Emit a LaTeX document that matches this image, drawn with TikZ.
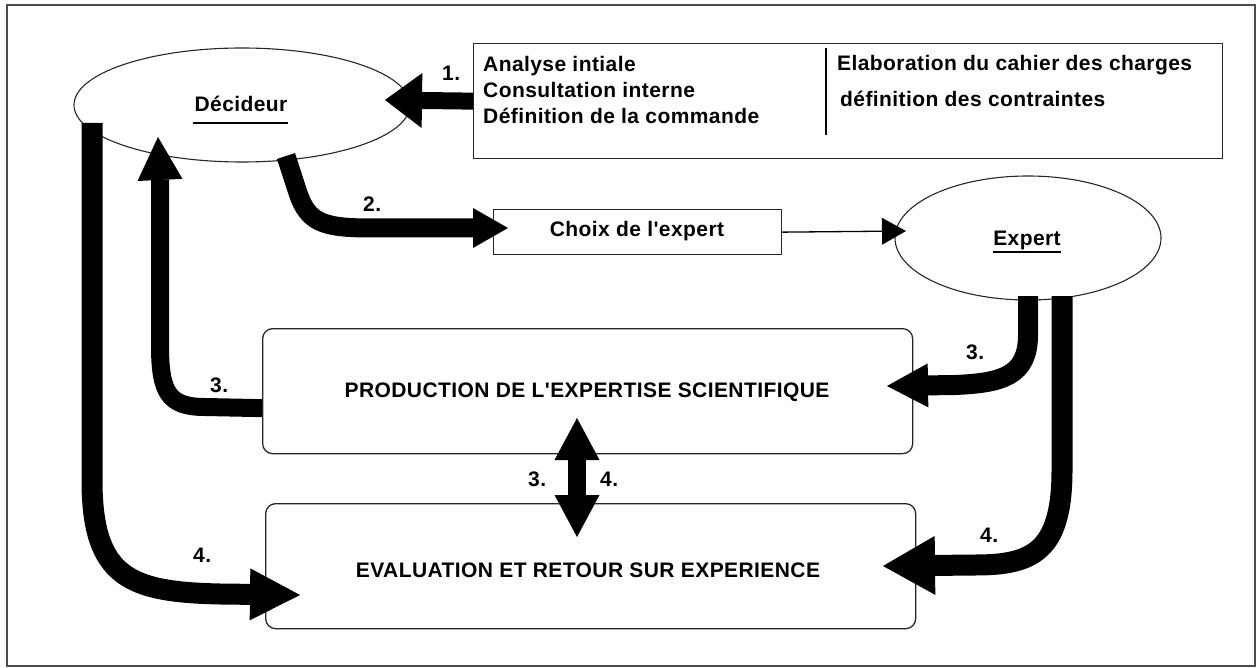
\documentclass[tikz,border=0pt]{standalone}
\usepackage{fontspec}
\setmainfont{Liberation Sans}
\newfontfamily\labfont{Liberation Sans}[LetterSpace=2.0]
\usetikzlibrary{arrows.meta,shapes.geometric,calc}
\tikzset{
  txt/.style={font=\labfont\bfseries\fontsize{21}{25}\selectfont, inner sep=0pt},
  boxline/.style={draw=black!85, line width=1.3pt},
  rbox/.style={boxline, rounded corners=10pt, minimum width=650pt, minimum height=125pt, inner sep=0pt},
  oval/.style={ellipse, draw=black!85, line width=1.1pt, inner sep=0pt},
  uline/.style={line width=1.6pt},
}
\begin{document}
\begin{tikzpicture}[x=1pt,y=-1pt]
\useasboundingbox (0,0) rectangle (1260,668);
% outer frame
\draw[draw=black!70, line width=1.5pt] (7,5) rectangle (1255,666);

% nodes
\node[oval, minimum width=336pt, minimum height=114pt] (dec) at (242,105) {};
\node[oval, minimum width=266pt, minimum height=124pt] (exp) at (1028,238) {};
\node[boxline, minimum width=749pt, minimum height=115pt, inner sep=0pt, anchor=north west] (top) at (473,43) {};
\node[boxline, minimum width=288pt, minimum height=45pt, inner sep=0pt, anchor=north west] (choix) at (493,209) {};
\node[rbox, anchor=north west] (prod) at (262,328) {};
\node[rbox, anchor=north west] (eval) at (265,503) {};

% texts
\node[txt, anchor=base] (dect) at (241,112) {Décideur};
\draw[uline] (193,123) -- (288,123);
\node[txt, anchor=base] (expt) at (1027,246) {Expert};
\draw[uline] (993,252) -- (1061,252);
\node[txt, anchor=base] (choixt) at (637,237) {Choix de l'expert};
\node[txt, anchor=base] (prodt) at (587,397) {PRODUCTION DE L'EXPERTISE SCIENTIFIQUE};
\node[txt, anchor=base] (evalt) at (588,577) {EVALUATION ET RETOUR SUR EXPERIENCE};

\node[txt, anchor=base west] (a1) at (483,72) {Analyse intiale};
\node[txt, anchor=base west] (a2) at (483,98) {Consultation interne};
\node[txt, anchor=base west] (a3) at (483,124) {Définition de la commande};
\node[txt, anchor=base west] (b1) at (837,71) {Elaboration du cahier des charges};
\node[txt, anchor=base west] (b2) at (840,107) {définition des contraintes};
\draw[line width=1.3pt] (826,48) -- (826,135);

% labels
\node[txt, anchor=base west] (l1) at (442,81) {1.};
\node[txt, anchor=base west] (l2) at (363,212) {2.};
\node[txt, anchor=base west] (l3a) at (210,392) {3.};
\node[txt, anchor=base west] (l3b) at (966,359) {3.};
\node[txt, anchor=base west] (l3c) at (528,486) {3.};
\node[txt, anchor=base west] (l4c) at (600,486) {4.};
\node[txt, anchor=base west] (l4a) at (193,562) {4.};
\node[txt, anchor=base west] (l4b) at (980,542) {4.};

% tip coordinates
\coordinate (t1) at (385,100);
\coordinate (t2) at (508,228);
\coordinate (tx) at (906,231);
\coordinate (t3l) at (158,137);
\coordinate (t3r) at (887,386);
\coordinate (t4l) at (300,595);
\coordinate (t4r) at (883,566);
\coordinate (tmu) at (577,418);
\coordinate (tmd) at (577,537);

% arrow 1
\draw[line width=17pt, -{Triangle[width=55pt,length=37pt,line width=0pt]}]
  (top.west) -- (t1);
% arrow 2
\draw[line width=19pt, -{Triangle[width=40pt,length=35pt,line width=0pt]}]
  (286,156) -- (298,193) .. controls (308,222) and (322,228) .. (370,228) -- (t2);
% thin arrow
\draw[line width=1.3pt, -{Triangle[width=27pt,length=24pt,line width=0pt]}]
  (choix.east) -- (tx);
% arrow 3 left (prod -> decideur)
\draw[line width=18pt, -{Triangle[width=45pt,length=43pt,line width=0pt]}]
  ([yshift=-17pt]prod.west) -- (205,407) .. controls (168,407) and (160,392) .. (160,345) -- (160,180) -- (t3l);
% arrow 3 right (expert -> prod)
\draw[line width=20pt, -{Triangle[width=44pt,length=41pt,line width=0pt]}]
  (1028,296) -- (1028,335) .. controls (1028,376) and (1002,383) .. (955,385) -- (t3r);
% arrow 4 right (expert -> eval)
\draw[line width=21pt, -{Triangle[width=59pt,length=52pt,line width=0pt]}]
  (1062,296) -- (1062,470) .. controls (1062,552) and (1032,565) .. (975,565) -- (t4r);
% arrow 4 left (decideur -> eval)
\draw[line width=21pt, -{Triangle[width=52pt,length=50pt,line width=0pt]}]
  (92,123) -- (92,480) .. controls (92,578) and (130,592) .. (220,594) -- (t4l);
% middle double arrow
\draw[line width=18pt, {Triangle[width=45pt,length=42pt,line width=0pt]}-{Triangle[width=45pt,length=42pt,line width=0pt]}]
  (tmu) -- (tmd);
\end{tikzpicture}
\end{document}
